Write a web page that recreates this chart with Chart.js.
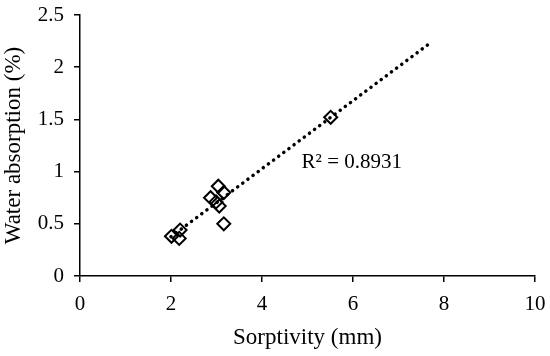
<!DOCTYPE html>
<html>
<head>
<meta charset="utf-8">
<script src="https://cdn.jsdelivr.net/npm/chart.js@4/dist/chart.umd.min.js"></script>
<style>
    html, body { margin: 0; padding: 0; background: #fff; }
    #wrap { width: 550px; height: 356px; }
</style>
</head>
<body>
<div id="wrap"><canvas id="kayra"></canvas></div>
<script>
// measured points (sorptivity mm, water absorption %)
const sorptivity = [2.01, 2.2, 2.18, 2.87, 3.04, 3.16, 2.99, 3.06, 3.16, 5.51];
const absorption = [0.38, 0.44, 0.36, 0.75, 0.86, 0.8, 0.71, 0.67, 0.5, 1.52];

// linear trend line end points as drawn
const trendX = [2.0, 7.66];
const trendY = [0.376, 2.22];

const r2Label = 'R² = 0.8931';
const xTitle = 'Sorptivity (mm)';
const yTitle = 'Water absorption (%)';

const FONT = "'Liberation Serif', 'Times New Roman', serif";

const r2Plugin = {
    id: 'r2Label',
    afterDatasetsDraw( chart )
    {
        let ctx = chart.ctx;
        let x = chart.scales.x.getPixelForValue( 4.87 );
        let y = chart.scales.y.getPixelForValue( 1.09 );
        ctx.save();
        ctx.fillStyle = '#000';
        ctx.font = '21px ' + FONT;
        ctx.textBaseline = 'middle';
        ctx.fillText( r2Label, x, y );
        ctx.restore();
    }
};

function toPoints( xs, ys )
{
    let pts = [];
    for ( let i = 0; i < xs.length; i++ )
    {
        pts.push( { x: xs[ i ], y: ys[ i ] } );
    }
    return pts;
}

const axisGrid = {
    drawOnChartArea: false,
    drawTicks: true,
    tickLength: 6,
    color: '#000',
    lineWidth: 1.5
};

new Chart( document.getElementById( 'kayra' ).getContext( '2d' ), {
    type: 'scatter',
    data: {
        datasets: [
            {
                label: 'trend',
                data: toPoints( trendX, trendY ),
                showLine: true,
                borderColor: '#000',
                borderWidth: 3.5,
                borderDash: [ 0.1, 6.3 ],
                borderCapStyle: 'round',
                pointRadius: 0,
                order: 2
            },
            {
                label: 'data',
                data: toPoints( sorptivity, absorption ),
                pointStyle: 'rectRot',
                pointRadius: 6.5,
                pointBorderWidth: 2,
                pointBorderColor: '#000',
                pointBackgroundColor: 'rgba(255,255,255,0)',
                order: 1
            }
        ]
    },
    options: {
        responsive: true,
        maintainAspectRatio: false,
        animation: false,
        layout: { padding: { left: 0, right: 15, top: 15, bottom: 4 } },
        plugins: {
            legend: { display: false },
            tooltip: { enabled: false }
        },
        scales: {
            x: {
                type: 'linear',
                min: 0,
                max: 10,
                grid: axisGrid,
                border: { color: '#000', width: 1.5 },
                afterFit: function ( scale )
                {
                    scale.height = 76;
                    scale.paddingLeft = 0;
                    scale.paddingRight = 0;
                },
                ticks: {
                    stepSize: 2,
                    color: '#000',
                    padding: 10,
                    maxRotation: 0,
                    font: { family: FONT, size: 21 }
                },
                title: {
                    display: true,
                    text: xTitle,
                    color: '#000',
                    padding: { top: 4, bottom: 0 },
                    font: { family: FONT, size: 23 }
                }
            },
            y: {
                type: 'linear',
                min: 0,
                max: 2.5,
                grid: axisGrid,
                border: { color: '#000', width: 1.5 },
                afterFit: function ( scale )
                {
                    scale.width = 80;
                    scale.paddingTop = 0;
                    scale.paddingBottom = 0;
                },
                ticks: {
                    stepSize: 0.5,
                    color: '#000',
                    padding: 10,
                    font: { family: FONT, size: 21 },
                    callback: function ( value )
                    {
                        return value.toString();
                    }
                },
                title: {
                    display: true,
                    text: yTitle,
                    color: '#000',
                    padding: { top: 0, bottom: 4 },
                    font: { family: FONT, size: 23 }
                }
            }
        }
    },
    plugins: [ r2Plugin ]
} );
</script>
</body>
</html>
